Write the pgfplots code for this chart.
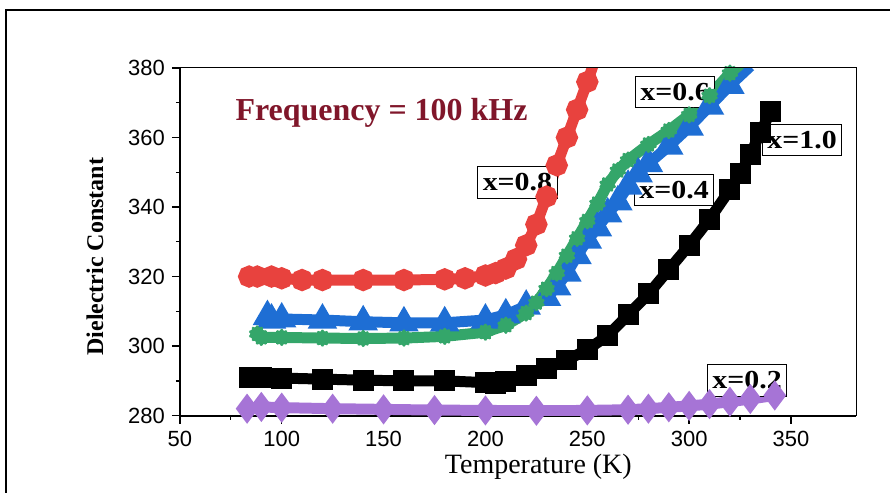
\documentclass[border=0pt]{standalone}
\usepackage{pgfplots}
\pgfplotsset{compat=1.18}
\usepackage{fontspec}
\setmainfont{Liberation Serif}
\newfontfamily\tickfont{Liberation Sans}

\definecolor{cred}{RGB}{232,66,62}
\definecolor{cblue}{RGB}{30,110,212}
\definecolor{cgreen}{RGB}{52,166,106}
\definecolor{cpurple}{RGB}{166,116,214}
\definecolor{freqred}{RGB}{128,22,42}

\begin{document}
\begin{tikzpicture}
\begin{axis}[
    scale only axis,
    width=338.5pt, height=174pt,
    xmin=50, xmax=382, ymin=280, ymax=380,
    xtick={50,100,...,350}, ytick={280,300,...,380},
    minor x tick num=1, minor y tick num=1,
    tick align=outside,
    xtick pos=bottom, ytick pos=left,
    major tick length=4pt, minor tick length=2pt,
    axis x line*=bottom, axis y line*=left,
    axis line style={-, line width=1pt},
    every tick/.style={black, line width=0.7pt},
    tick label style={font=\tickfont\fontsize{11}{13}\selectfont},
    /pgf/number format/assume math mode=true,
    xlabel={Temperature (K)},
    ylabel={\bfseries Dielectric Constant},
    every axis x label/.style={at={(axis description cs:0.53,0)}, anchor=center, yshift=-25.5pt, font=\fontsize{14}{16}\selectfont},
    every axis y label/.style={at={(axis description cs:-0.1256,0.457)}, anchor=center, rotate=90, font=\fontsize{12}{14}\selectfont},
]
% x = 0.2
\addplot[cpurple, line width=5.5pt, mark=diamond*, mark size=3pt] coordinates {
(83,282) (90,282.5) (100,282.3) (125,282) (150,281.8) (175,281.6) (200,281.5) (225,281.4) (250,281.5) (270,281.7) (280,282) (290,282.4) (300,282.8) (310,283.3) (320,284) (330,284.8) (342,285.8)
};
% x = 1.0
\addplot[black, line width=5.5pt, mark=square*, mark size=2.5pt] coordinates {
(84,291) (90,291) (100,290.8) (120,290.5) (140,290.2) (160,290) (180,290) (200,289.5) (205,289.3) (210,289.8) (220,291.5) (230,293.5) (240,296) (250,299) (260,303) (270,309) (280,315) (290,322) (300,329) (310,336.5) (320,345) (325,349.5) (330,355) (335,361.5) (340,367.5)
};
% x = 0.4
\addplot[cblue, line width=5.5pt, mark=triangle*, mark size=3pt] coordinates {
(93,308.5) (95,307.5) (100,307.8) (120,307.5) (140,307) (160,306.7) (180,306.7) (200,307.5) (210,309) (220,311.5) (230,314) (235,317) (240,321) (245,326) (250,330.5) (255,334) (260,338) (265,341.5) (270,346) (275,349.5) (280,352.5) (290,357.5) (300,363) (310,369) (320,375) (330,380.5)
};
% x = 0.6
\addplot[cgreen, line width=5.5pt, mark=10-pointed star, mark size=3.3pt] coordinates {
(88,303.5) (90,302.5) (100,302.5) (120,302.3) (140,302.2) (160,302.3) (180,302.8) (200,304) (210,306) (220,309.5) (225,312.5) (230,316.5) (235,321) (240,326) (245,331) (250,336) (255,341) (260,346.5) (265,350.5) (270,353.5) (280,358) (290,362) (300,366.5) (310,372) (320,378.5) (325,381)
};
% x = 0.8
\addplot[cred, line width=5.5pt, mark=*, mark size=2.7pt] coordinates {
(84,320) (88,320) (95,320) (100,319.5) (110,319) (120,319) (140,319) (160,319) (180,319.2) (190,319.5) (200,320.3) (205,321) (210,322.3) (215,325) (220,329) (225,335) (230,343) (235,352) (240,360) (245,368) (250,376) (253,381)
};

\node[font=\bfseries\fontsize{16}{18}\selectfont, text=freqred] at (axis cs:149,367.1) {Frequency = 100 kHz};
\tikzset{lab/.style={draw=black, fill=white, line width=0.5pt, inner xsep=2.5pt, inner ysep=3.5pt, font=\bfseries\fontsize{13}{15}\selectfont}}
\node[lab] at (axis cs:215.7,347.1) {\scalebox{1.15}[1]{x=0.8}};
\node[lab] at (axis cs:293.1,373.1) {\scalebox{1.15}[1]{x=0.6}};
\node[lab] at (axis cs:292.6,344.9) {\scalebox{1.15}[1]{x=0.4}};
\node[lab] at (axis cs:355.4,359.3) {\scalebox{1.15}[1]{x=1.0}};
\node[lab] at (axis cs:328.4,290.1) {\scalebox{1.15}[1]{x=0.2}};
\end{axis}
\draw[line width=0.5pt] (current axis.north west) -- (current axis.north east) -- (current axis.south east);
\draw[line width=0.8pt] ([shift={(-87pt,-38.5pt)}]current axis.south west) -- ([shift={(-87pt,29pt)}]current axis.north west) -- ([shift={(17pt,29pt)}]current axis.north east);
\path[use as bounding box] ([shift={(-90pt,-38.5pt)}]current axis.south west) rectangle ([shift={(17pt,34pt)}]current axis.north east);
\end{tikzpicture}
\end{document}
